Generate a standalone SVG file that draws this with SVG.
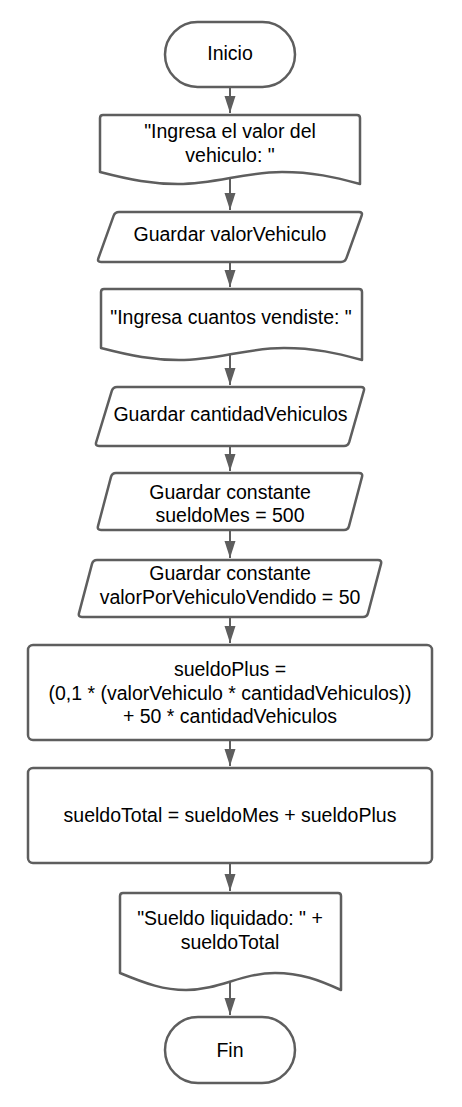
<svg xmlns="http://www.w3.org/2000/svg" width="462" height="1107" viewBox="0 0 462 1107">
<defs>
<style>
.s{fill:#fff;stroke:#5e5e5e;stroke-width:2.5;stroke-linejoin:round}
.t{font-family:"Liberation Sans",Arial,sans-serif;font-size:19.5px;fill:#000;text-anchor:middle}
.c{fill:none;stroke:#5e5e5e;stroke-width:2}
</style>
<marker id="ah" markerUnits="userSpaceOnUse" markerWidth="18" markerHeight="12" refX="17" refY="5.5" orient="auto">
<path d="M0,0 L17,5.5 L0,11 Z" fill="#5e5e5e"/>
</marker>
</defs>
<rect width="462" height="1107" fill="#fff"/>
<g id="connectors">
<line class="c" x1="230" y1="87" x2="230" y2="113" marker-end="url(#ah)"/>
<line class="c" x1="230" y1="178" x2="230" y2="210" marker-end="url(#ah)"/>
<line class="c" x1="230" y1="262" x2="230" y2="287" marker-end="url(#ah)"/>
<line class="c" x1="230" y1="354" x2="230" y2="385" marker-end="url(#ah)"/>
<line class="c" x1="230" y1="446" x2="230" y2="471" marker-end="url(#ah)"/>
<line class="c" x1="230" y1="530" x2="230" y2="558" marker-end="url(#ah)"/>
<line class="c" x1="230" y1="617" x2="230" y2="643" marker-end="url(#ah)"/>
<line class="c" x1="230" y1="740" x2="230" y2="766" marker-end="url(#ah)"/>
<line class="c" x1="230" y1="863" x2="230" y2="891" marker-end="url(#ah)"/>
<line class="c" x1="230" y1="981" x2="230" y2="1015" marker-end="url(#ah)"/>
</g>
<g id="inicio">
<rect class="s" x="165" y="22" width="130" height="65" rx="32.5"/>
<text class="t" x="230" y="60">Inicio</text>
</g>
<g id="doc1">
<path class="s" d="M103,115 H357 Q360,115 360,118 V184 C334,177 313,172 282,172 C243,172 217,184 178,184 C152,184 131,180 100,172 V118 Q100,115 103,115 Z"/>
<text class="t" x="230" y="138">"Ingresa el valor del</text>
<text class="t" x="230" y="161.5">vehiculo: "</text>
</g>
<g id="para1">
<path class="s" d="M119,212 H359 Q363,212 361.6,215.8 L346.4,258.2 Q345,262 341,262 H101 Q97,262 98.4,258.2 L113.6,215.8 Q115,212 119,212 Z"/>
<text class="t" x="230" y="240.5">Guardar valorVehiculo</text>
</g>
<g id="doc2">
<path class="s" d="M104,289 H359 Q362,289 362,292 V360 C336,353 315,348 284,348 C245,348 218.5,360 179,360 C153,360 132,356 101,348 V292 Q101,289 104,289 Z"/>
<text class="t" x="231" y="323.5">"Ingresa cuantos vendiste: "</text>
</g>
<g id="para2">
<path class="s" d="M117,387 H361 Q365,387 363.8,390.8 L349.2,442.2 Q348,446 344,446 H99 Q95,446 96.2,442.2 L111.8,390.8 Q113,387 117,387 Z"/>
<text class="t" x="230.5" y="420.5">Guardar cantidadVehiculos</text>
</g>
<g id="para3">
<path class="s" d="M116,473 H359 Q363,473 362,476.9 L349,526.1 Q348,530 344,530 H101 Q97,530 98,526.1 L111,476.9 Q112,473 116,473 Z"/>
<text class="t" x="230" y="498.5">Guardar constante</text>
<text class="t" x="230" y="522">sueldoMes = 500</text>
</g>
<g id="para4">
<path class="s" d="M97,560 H378 Q382,560 381,563.9 L368,613.1 Q367,617 363,617 H82 Q78,617 79,613.1 L92,563.9 Q93,560 97,560 Z"/>
<text class="t" x="230" y="580">Guardar constante</text>
<text class="t" x="230" y="604">valorPorVehiculoVendido = 50</text>
</g>
<g id="proc1">
<rect class="s" x="28" y="645" width="404" height="95" rx="5"/>
<text class="t" x="230" y="676">sueldoPlus =</text>
<text class="t" x="230" y="699.5">(0,1 * (valorVehiculo * cantidadVehiculos))</text>
<text class="t" x="230" y="723">+ 50 * cantidadVehiculos</text>
</g>
<g id="proc2">
<rect class="s" x="28" y="768" width="404" height="95" rx="5"/>
<text class="t" x="230" y="822">sueldoTotal = sueldoMes + sueldoPlus</text>
</g>
<g id="doc3">
<path class="s" d="M123,893 H338 Q341,893 341,896 V990 C319,980 301,973 275,973 C241.6,973 219.5,990 186,990 C164,990 146.5,984 120,973 V896 Q120,893 123,893 Z"/>
<text class="t" x="230" y="925">"Sueldo liquidado: " +</text>
<text class="t" x="230" y="948.5">sueldoTotal</text>
</g>
<g id="fin">
<rect class="s" x="165" y="1017" width="130" height="66" rx="33"/>
<text class="t" x="230" y="1056.5">Fin</text>
</g>
</svg>
